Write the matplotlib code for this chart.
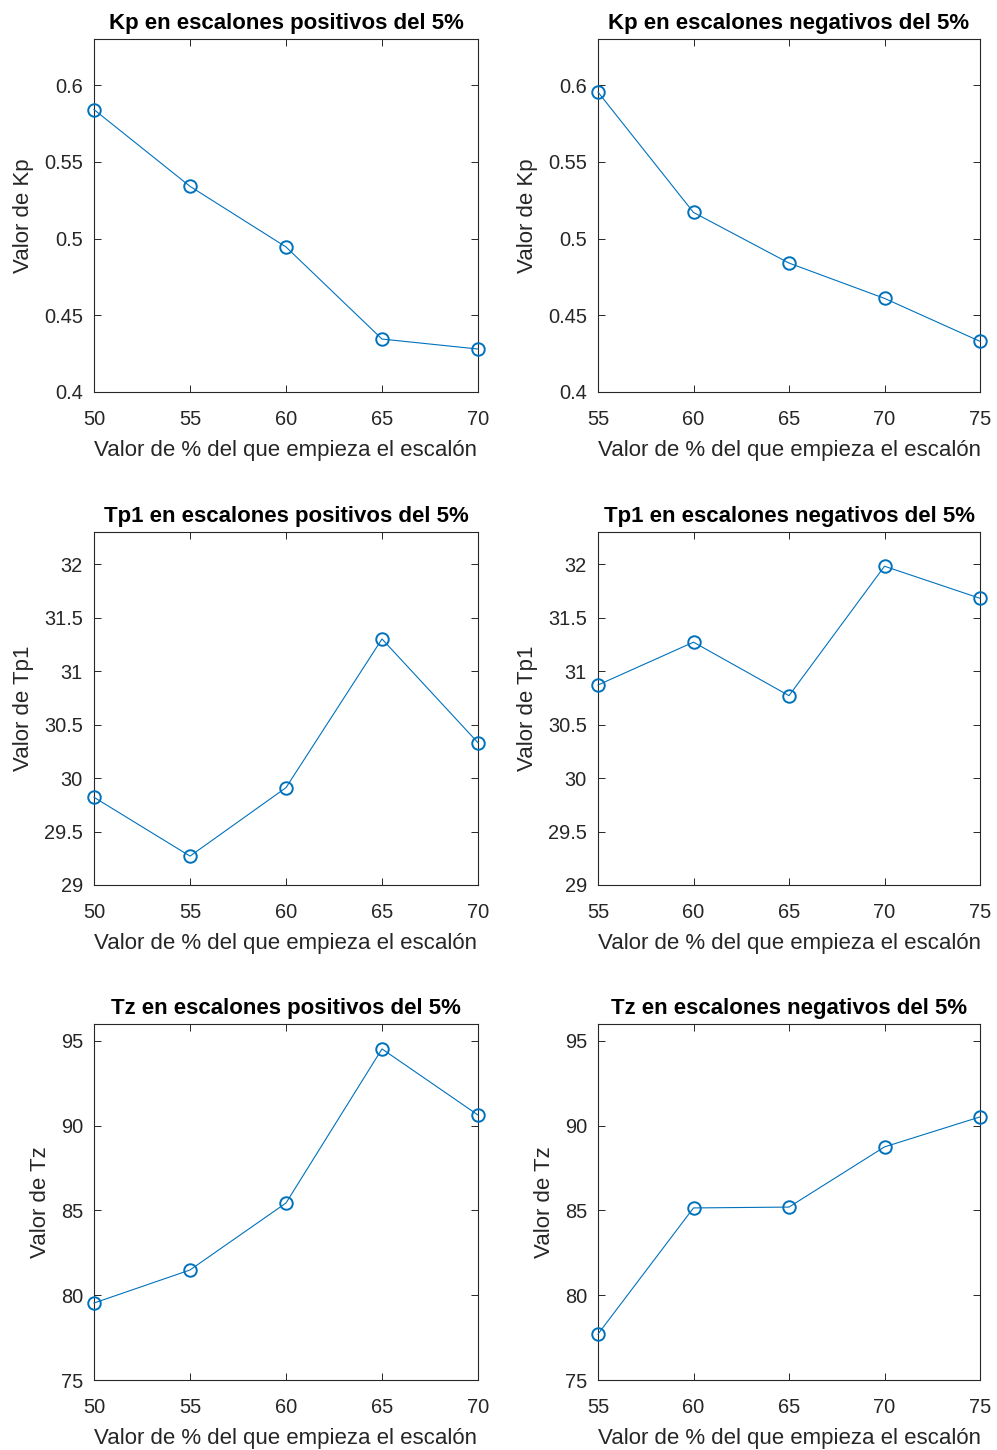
import matplotlib
matplotlib.use('Agg')
import matplotlib.pyplot as plt

plt.rcParams['font.family'] = ['Liberation Sans', 'DejaVu Sans']

# datos
x_pos = [50, 55, 60, 65, 70]
x_neg = [55, 60, 65, 70, 75]

kp_pos = [0.584, 0.534, 0.4945, 0.4345, 0.428]
kp_neg = [0.5954, 0.517, 0.484, 0.461, 0.433]
tp1_pos = [29.82, 29.27, 29.91, 31.30, 30.33]
tp1_neg = [30.87, 31.27, 30.77, 31.98, 31.68]
tz_pos = [79.54, 81.49, 85.44, 94.53, 90.63]
tz_neg = [77.71, 85.15, 85.2, 88.75, 90.52]

W, H = 997, 1450
fig = plt.figure(figsize=(W / 100, H / 100), dpi=100)

color = '#0072BD'
axcol = '#262626'

# (xdata, ydata, title, ylabel, ylim, yticks, yticklabels)
panels = [
    (x_pos, kp_pos, 'Kp en escalones positivos del 5%', 'Valor de Kp', (0.4, 0.63),
     [0.4, 0.45, 0.5, 0.55, 0.6], ['0.4', '0.45', '0.5', '0.55', '0.6']),
    (x_neg, kp_neg, 'Kp en escalones negativos del 5%', 'Valor de Kp', (0.4, 0.63),
     [0.4, 0.45, 0.5, 0.55, 0.6], ['0.4', '0.45', '0.5', '0.55', '0.6']),
    (x_pos, tp1_pos, 'Tp1 en escalones positivos del 5%', 'Valor de Tp1', (29, 32.3),
     [29, 29.5, 30, 30.5, 31, 31.5, 32], ['29', '29.5', '30', '30.5', '31', '31.5', '32']),
    (x_neg, tp1_neg, 'Tp1 en escalones negativos del 5%', 'Valor de Tp1', (29, 32.3),
     [29, 29.5, 30, 30.5, 31, 31.5, 32], ['29', '29.5', '30', '30.5', '31', '31.5', '32']),
    (x_pos, tz_pos, 'Tz en escalones positivos del 5%', 'Valor de Tz', (75, 96),
     [75, 80, 85, 90, 95], ['75', '80', '85', '90', '95']),
    (x_neg, tz_neg, 'Tz en escalones negativos del 5%', 'Valor de Tz', (75, 96),
     [75, 80, 85, 90, 95], ['75', '80', '85', '90', '95']),
]

lefts = [94, 598]
rights = [478, 980]
tops = [39, 532, 1024]
bottoms = [392, 885, 1380]

for i, (xd, yd, title, ylab, ylim, yt, ytl) in enumerate(panels):
    r, c = divmod(i, 2)
    ax = fig.add_axes([lefts[c] / W, 1 - bottoms[r] / H,
                       (rights[c] - lefts[c]) / W, (bottoms[r] - tops[r]) / H])
    ax.plot(xd, yd, '-o', color=color, lw=0.8, ms=9, mfc='none', mew=1.4,
            clip_on=False, zorder=3)
    ax.set_xlim(xd[0], xd[-1])
    ax.set_xticks(xd)
    ax.set_ylim(*ylim)
    ax.set_yticks(yt)
    ax.set_yticklabels(ytl)
    ax.set_title(title, fontsize=16, fontweight='bold', pad=7.5)
    ax.set_xlabel('Valor de % del que empieza el escalón', fontsize=16, color=axcol,
                  labelpad=8)
    ax.set_ylabel(ylab, fontsize=16, color=axcol, labelpad=7)
    ax.tick_params(direction='in', top=True, right=True, labelsize=14.4,
                   colors=axcol, length=5, width=0.7)
    ax.tick_params(axis='x', pad=13)
    ax.tick_params(axis='y', pad=8)
    for s in ax.spines.values():
        s.set_color(axcol)
        s.set_linewidth(0.8)

fig.savefig('out.png', dpi=100)
